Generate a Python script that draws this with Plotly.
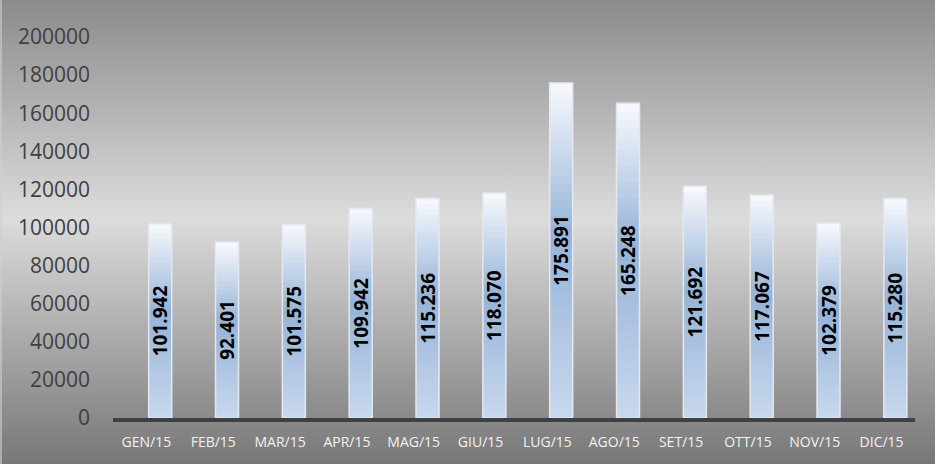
import base64
import plotly.graph_objects as go

# ---- data ----
months = ["GEN/15", "FEB/15", "MAR/15", "APR/15", "MAG/15", "GIU/15",
          "LUG/15", "AGO/15", "SET/15", "OTT/15", "NOV/15", "DIC/15"]
values = [101942, 92401, 101575, 109942, 115236, 118070,
          175891, 165248, 121692, 117067, 102379, 115280]
value_labels = ["101.942", "92.401", "101.575", "109.942", "115.236", "118.070",
                "175.891", "165.248", "121.692", "117.067", "102.379", "115.280"]
y_ticks = list(range(0, 200001, 20000))

# ---- style helpers ----
BAR_W = 0.344
BAR_OFF = 0.034
N_SEG = 40
stops = [(0.0, (248, 250, 253)), (0.45, (149, 179, 216)), (1.0, (200, 216, 237))]


def grad_color(t):
    # t: 0 at top of bar, 1 at bottom
    for (t0, c0), (t1, c1) in zip(stops[:-1], stops[1:]):
        if t0 <= t <= t1:
            f = (t - t0) / (t1 - t0)
            c = [round(a + (b - a) * f) for a, b in zip(c0, c1)]
            return f"rgb({c[0]},{c[1]},{c[2]})"
    return f"rgb{stops[-1][1]}"


fig = go.Figure()

# gradient fill built from stacked slices of each bar (each slice overlaps the
# next one, which is drawn on top, so no seams show)
for i in range(N_SEG):
    t = 1 - (i + 0.5) / N_SEG
    fig.add_trace(go.Bar(
        x=months,
        y=[v / N_SEG * 2 if i < N_SEG - 1 else v / N_SEG for v in values],
        base=[v * i / N_SEG for v in values],
        width=BAR_W, offset=BAR_OFF,
        marker=dict(color=grad_color(t), line=dict(width=0)),
        hoverinfo="skip", showlegend=False,
    ))

# outline + labels
fig.add_trace(go.Bar(
    x=months, y=values,
    width=BAR_W, offset=BAR_OFF,
    marker=dict(color="rgba(0,0,0,0)", line=dict(color="#e4e8ee", width=1.5)),
    text=value_labels, textposition="inside", insidetextanchor="middle",
    textangle=-90, constraintext="none",
    textfont=dict(family="Open Sans", size=19, color="#000000", weight="bold"),
    cliponaxis=False, showlegend=False,
))

# background gradient
svg = """<svg xmlns='http://www.w3.org/2000/svg' width='935' height='464'>
<defs><linearGradient id='g' x1='0' y1='0' x2='0' y2='1'>
<stop offset='0' stop-color='#8b8b8b'/>
<stop offset='0.47' stop-color='#dcdcdc'/>
<stop offset='1' stop-color='#777777'/>
</linearGradient></defs>
<rect width='935' height='464' fill='url(#g)'/>
<rect x='0' y='0' width='2' height='464' fill='#cfcfcf' opacity='0.6'/>
</svg>"""
src = "data:image/svg+xml;base64," + base64.b64encode(svg.encode()).decode()

W, H = 935, 464
L, R, T, B = 113, 20, 37, 46
pw, ph = W - L - R, H - T - B

fig.update_layout(
    width=W, height=H,
    margin=dict(l=L, r=R, t=T, b=B),
    barmode="overlay",
    paper_bgcolor="rgba(0,0,0,0)",
    plot_bgcolor="rgba(0,0,0,0)",
    images=[dict(source=src, xref="paper", yref="paper",
                 x=-L / pw, y=1 + T / ph, sizex=W / pw, sizey=H / ph,
                 xanchor="left", yanchor="top", sizing="stretch", layer="below")],
    xaxis=dict(
        type="category", range=[-0.5, 11.5],
        showline=True, linecolor="#404040", linewidth=4,
        showgrid=False, ticks="",
        tickfont=dict(family="Open Sans", size=14, color="#f2f2f2"),
        ticklabelstandoff=8,
    ),
    yaxis=dict(
        range=[0, 200000], tickvals=y_ticks,
        ticktext=[str(v) for v in y_ticks],
        showgrid=False, zeroline=False, showline=False, ticks="",
        tickfont=dict(family="Open Sans", size=21, color="#404040"),
        ticklabelstandoff=22,
    ),
    font=dict(family="Open Sans"),
)

fig.write_html("out.html",
               config={"displayModeBar": False},
               post_script="document.body.style.margin='0';document.body.style.overflow='hidden';")
